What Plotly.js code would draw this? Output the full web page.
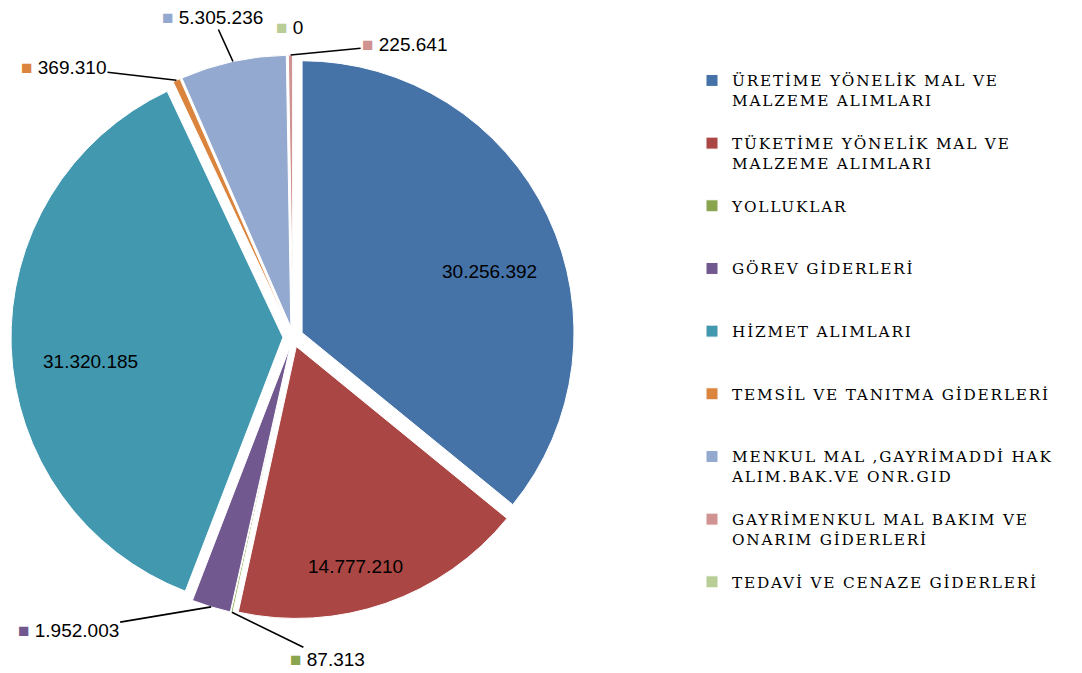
<!DOCTYPE html>
<html>
<head>
<meta charset="utf-8">
<script src="https://cdn.plot.ly/plotly-3.0.1.min.js"></script>
<style>html,body{margin:0;padding:0;background:#fff;}#chart{width:1082px;height:673px;}</style>
</head>
<body>
<div id="chart"></div>
<script>
const categories = [
  "ÜRETİME YÖNELİK MAL VE<br>MALZEME ALIMLARI",
  "TÜKETİME YÖNELİK MAL VE<br>MALZEME ALIMLARI",
  "YOLLUKLAR",
  "GÖREV GİDERLERİ",
  "HİZMET ALIMLARI",
  "TEMSİL VE TANITMA GİDERLERİ",
  "MENKUL MAL ,GAYRİMADDİ HAK<br>ALIM.BAK.VE ONR.GID",
  "GAYRİMENKUL MAL BAKIM VE<br>ONARIM GİDERLERİ",
  "TEDAVİ VE CENAZE GİDERLERİ"
];
const values = [30256392, 14777210, 87313, 1952003, 31320185, 369310, 5305236, 225641, 0];
const colors = ["#4572A7", "#AA4643", "#89A54E", "#71588F", "#4198AF", "#DB843D", "#93A9CF", "#D19392", "#B9CD96"];
const insideLabel = [true, true, false, false, true, false, false, false, false];

const W = 1082, H = 673;
const SERIF = "DejaVu Serif";
const SANS = "Liberation Sans";
const PULL = 0.037;
const DOMAIN_X = [11 / W, 575 / W];
const DOMAIN_Y = [54 / H, 618 / H];

function fmt(v) { return String(v).replace(/\B(?=(\d{3})+(?!\d))/g, "."); }

// legend entries: wide letter spacing, padded to three lines so every entry has the same height
const legendLabels = categories.map(c => {
  const lines = c.split("<br>").map(l => '<span style="letter-spacing:1.8px">' + l + '</span>');
  while (lines.length < 3) lines.push(" ");
  return lines.join("<br>");
});

const trace = {
  type: "pie",
  labels: legendLabels,
  values: values,
  sort: false,
  direction: "clockwise",
  rotation: 0,
  pull: values.map(() => PULL),
  marker: {colors: colors, line: {color: "#ffffff", width: 1}},
  textinfo: "none",
  textfont: {family: SERIF, size: 15.3, color: "#000000"},
  domain: {x: DOMAIN_X, y: DOMAIN_Y},
  hoverinfo: "label+value+percent",
  showlegend: true
};

// value labels: positioned from each slice's mid angle (same geometry as the pie)
const total = values.reduce((a, b) => a + b, 0);
const boxW = (DOMAIN_X[1] - DOMAIN_X[0]) * W, boxH = (DOMAIN_Y[1] - DOMAIN_Y[0]) * H;
const cx = (DOMAIN_X[0] + DOMAIN_X[1]) / 2 * W;
const cy = (1 - (DOMAIN_Y[0] + DOMAIN_Y[1]) / 2) * H;
const r = Math.min(boxW, boxH) / (2 + 2 * PULL);
// label placement (px) per slice index: callouts relative to the slice edge,
// inside labels relative to the point at 0.75 r along the slice's mid angle
const calloutOffsets = {2: [96, 47], 3: [-143, 24], 5: [-113, -13], 6: [-20, -44], 7: [114, -11], 8: [-3, -28]};
const insideShift = {0: [3, 26], 1: [-8, 27], 4: [11, 17]};

const annotations = [];
let cum = 0;
values.forEach((v, i) => {
  const mid = (cum + v / 2) / total * 2 * Math.PI;
  cum += v;
  const sx = Math.sin(mid), sy = -Math.cos(mid);
  const vx = cx + PULL * r * sx, vy = cy + PULL * r * sy;
  if (insideLabel[i]) {
    const s = insideShift[i];
    const px = vx + 0.75 * r * sx + s[0], py = vy + 0.75 * r * sy + s[1];
    annotations.push({
      xref: "paper", yref: "paper", x: px / W, y: 1 - py / H,
      showarrow: false, xanchor: "center", yanchor: "middle", text: fmt(v),
      font: {family: SANS, size: 19, color: "#000000"}
    });
    return;
  }
  const px = vx + r * sx, py = vy + r * sy;
  const off = calloutOffsets[i];
  const text = '<span style="color:' + colors[i] + '">■</span> ' + fmt(v);
  if (v > 0) {
    annotations.push({
      xref: "paper", yref: "paper", x: px / W, y: 1 - py / H,
      ax: off[0], ay: off[1], showarrow: true, arrowhead: 0, arrowwidth: 1.6,
      arrowcolor: "#000000", standoff: 0, text: text,
      font: {family: SANS, size: 19, color: "#000000"}
    });
  } else {
    annotations.push({
      xref: "paper", yref: "paper", x: (px + off[0]) / W, y: 1 - (py + off[1]) / H,
      showarrow: false, text: text, xanchor: "center", yanchor: "middle",
      font: {family: SANS, size: 19, color: "#000000"}
    });
  }
});

const layout = {
  width: W,
  height: H,
  margin: {l: 0, r: 0, t: 0, b: 0},
  paper_bgcolor: "#ffffff",
  separators: ",.",
  font: {family: SERIF, size: 15.3, color: "#000000"},
  showlegend: true,
  legend: {
    x: 692 / W, y: 1 - 64 / H, xanchor: "left", yanchor: "top",
    valign: "top",
    font: {family: SERIF, size: 15.3, color: "#000000"},
    bgcolor: "rgba(0,0,0,0)"
  },
  annotations: annotations
};

Plotly.newPlot("chart", [trace], layout, {displayModeBar: false, staticPlot: true});
</script>
</body>
</html>
